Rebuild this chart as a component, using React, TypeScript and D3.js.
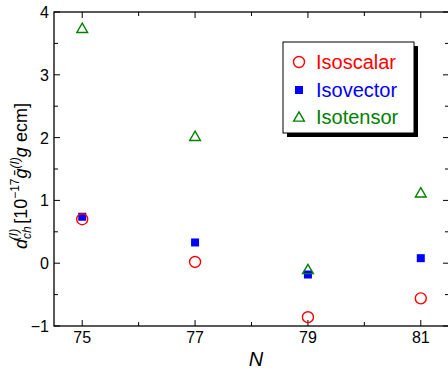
import React from 'react';
import * as d3 from 'd3';

const nValues = [75, 77, 79, 81];
const isoscalar = [0.7, 0.02, -0.86, -0.56];
const isovector = [0.74, 0.33, -0.18, 0.08];
const isotensor = [3.74, 2.02, -0.1, 1.12];
const xTicks = [75, 77, 79, 81];
const xMinor = [76, 78, 80];
const yTicks = [-1, 0, 1, 2, 3, 4];
const yMinor = [-0.5, 0.5, 1.5, 2.5, 3.5];

const W = 448;
const H = 370;
const m = { left: 54, right: 449, top: 12, bottom: 326 };
const font = 'Liberation Sans, Arial, sans-serif';

const App = () => {
  const x = d3.scaleLinear().domain([74.5, 81.5]).range([m.left, m.right]);
  const y = d3.scaleLinear().domain([-1, 4]).range([m.bottom, m.top]);
  const tri = d3.symbol().type(d3.symbolTriangle).size(50)();

  return (
    <svg width={W} height={H} style={{ position: 'absolute', left: 0, top: 0 }} fontFamily={font}>
      <rect width={W} height={H} fill="white" />
      {/* frame */}
      <rect x={m.left} y={m.top} width={m.right - m.left} height={m.bottom - m.top} fill="none" stroke="#000" strokeWidth={1.3} />
      {/* x ticks */}
      {xTicks.map(t => (
        <g key={'xt' + t}>
          <line x1={x(t)} x2={x(t)} y1={m.bottom} y2={m.bottom - 6} stroke="#000" />
          <line x1={x(t)} x2={x(t)} y1={m.top} y2={m.top + 6} stroke="#000" />
          <text x={x(t)} y={343} fontSize={16} textAnchor="middle">{t}</text>
        </g>
      ))}
      {xMinor.map(t => (
        <g key={'xm' + t}>
          <line x1={x(t)} x2={x(t)} y1={m.bottom} y2={m.bottom - 4} stroke="#000" />
          <line x1={x(t)} x2={x(t)} y1={m.top} y2={m.top + 4} stroke="#000" />
        </g>
      ))}
      {/* y ticks */}
      {yTicks.map(t => (
        <g key={'yt' + t}>
          <line x1={m.left} x2={m.left + 6} y1={y(t)} y2={y(t)} stroke="#000" />
          <line x1={m.right} x2={m.right - 6} y1={y(t)} y2={y(t)} stroke="#000" />
          <text x={m.left - 5} y={y(t) + 6} fontSize={16} textAnchor="end">{t < 0 ? '\u2212' + Math.abs(t) : t}</text>
        </g>
      ))}
      {yMinor.map(t => (
        <g key={'ym' + t}>
          <line x1={m.left} x2={m.left + 4} y1={y(t)} y2={y(t)} stroke="#000" />
          <line x1={m.right} x2={m.right - 4} y1={y(t)} y2={y(t)} stroke="#000" />
        </g>
      ))}
      {/* axis labels */}
      <text x={256} y={366} fontSize={20} fontStyle="italic" textAnchor="middle">N</text>
      <text transform="translate(27,176) rotate(-90)" fontSize={18} textAnchor="middle">
        <tspan fontStyle="italic">d</tspan>
        <tspan fontSize={12} fontStyle="italic" dy={4}>ch</tspan>
        <tspan fontSize={12} fontStyle="italic" dx={-14} dy={-13}>(I)</tspan>
        <tspan dy={9}>{'\u00a0[10'}</tspan>
        <tspan fontSize={12} dy={-8}>{'\u221217'}</tspan>
        <tspan fontStyle="italic" dy={8}>{'\u1e21'}</tspan>
        <tspan fontSize={12} fontStyle="italic" dy={-8}>(I)</tspan>
        <tspan fontStyle="italic" dy={8}>g</tspan>
        <tspan>{'\u00a0ecm]'}</tspan>
      </text>
      {/* data */}
      {nValues.map((n, i) => (
        <g key={'d' + n}>
          <rect x={x(n) - 4} y={y(isovector[i]) - 4} width={8} height={8} fill="#0000ff" />
          <circle cx={x(n)} cy={y(isoscalar[i])} r={5.5} fill="none" stroke="#ff0000" strokeWidth={1.4} />
          <path d={tri} transform={`translate(${x(n)},${y(isotensor[i]) + 1})`} fill="none" stroke="#008000" strokeWidth={1.4} />
        </g>
      ))}
      {/* legend */}
      <rect x={287} y={46} width={131} height={91} fill="#000" />
      <rect x={283} y={42} width={131} height={91} fill="#fff" stroke="#000" strokeWidth={1} />
      <circle cx={299} cy={62} r={5.5} fill="none" stroke="#ff0000" strokeWidth={1.4} />
      <text x={316} y={69} fontSize={20} fill="#ff0000">Isoscalar</text>
      <rect x={295} y={86} width={8} height={8} fill="#0000ff" />
      <text x={316} y={97} fontSize={20} fill="#0000ff">Isovector</text>
      <path d={tri} transform="translate(299,118)" fill="none" stroke="#008000" strokeWidth={1.4} />
      <text x={316} y={124} fontSize={20} fill="#008000">Isotensor</text>
    </svg>
  );
};

export default App;
